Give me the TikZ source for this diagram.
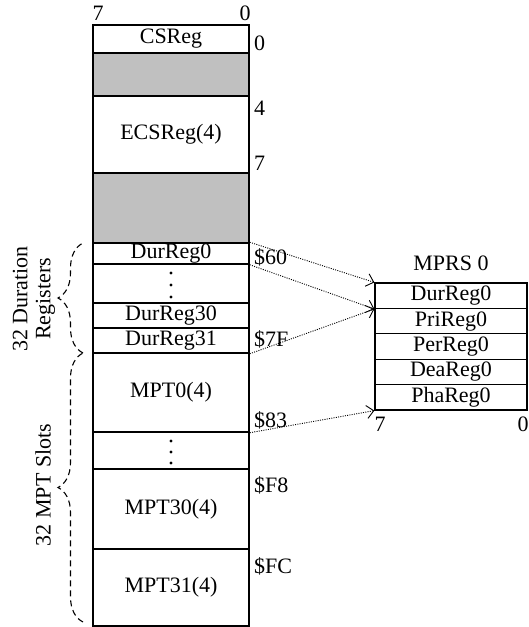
\documentclass[tikz,border=0pt]{standalone}
\usepackage{fontspec}
\setmainfont{Liberation Serif}
\usetikzlibrary{decorations.pathreplacing,arrows.meta}
\definecolor{regGray}{HTML}{C0C0C0}
\begin{document}
\begin{tikzpicture}[x=1bp,y=-1bp,
  txt/.style={font=\fontsize{22bp}{23bp}\selectfont, inner sep=0pt},
  reg/.style={txt, draw, line width=1.5bp, minimum width=156bp, anchor=center},
  grayreg/.style={reg, fill=regGray},
  mreg/.style={txt, draw, line width=1.2bp, minimum width=152bp, minimum height=25.4bp, anchor=center},
  addr/.style={txt, anchor=west},
  ptr/.style={line width=0.9bp, dash pattern=on 1bp off 1.3bp, -{Straight Barb[length=7bp,width=13bp,line width=0.9bp]}},
  dbrace/.style={line width=1.1bp, dash pattern=on 6bp off 4bp, decorate, decoration={brace, amplitude=25bp}},
  dotm/.style={fill=black}
]
\useasboundingbox (0,0) rectangle (529,627);

% main register column
\node[reg, minimum height=28bp] (csreg) at (171,39) {CSReg};
\node[grayreg, minimum height=43bp] (gray1) at (171,74.5) {};
\node[reg, minimum height=77bp] (ecsreg) at (171,134.5) {ECSReg(4)};
\node[grayreg, minimum height=70bp] (gray2) at (171,208) {};
\node[reg, minimum height=21bp] (dur0) at (171,253.5) {DurReg0};
\node[reg, minimum height=39bp] (durdots) at (171,283.5) {};
\node[reg, minimum height=25bp] (dur30) at (171,315.5) {DurReg30};
\node[reg, minimum height=25bp] (dur31) at (171,340.5) {DurReg31};
\node[reg, minimum height=79bp] (mpt0) at (171,392.5) {MPT0(4)};
\node[reg, minimum height=37bp] (mptdots) at (171,450.5) {};
\node[reg, minimum height=80bp] (mpt30) at (171,509) {MPT30(4)};
\node[reg, minimum height=77bp] (mpt31) at (171,587.5) {MPT31(4)};

% vertical dots
\foreach \yy in {273,285,297,441,452,463} \fill[dotm] (171,\yy) circle (1.6bp);

% bit labels
\node[txt] (b7) at (98,13) {7};
\node[txt] (b0) at (245,13) {0};

% offsets
\node[addr] (o0) at (254,43) {0};
\node[addr] (o4) at (254,108) {4};
\node[addr] (o7) at (254,163) {7};
\node[addr] (a60) at (254,257) {\$60};
\node[addr] (a7f) at (254,339) {\$7F};
\node[addr] (a83) at (254,420) {\$83};
\node[addr] (af8) at (254,485) {\$F8};
\node[addr] (afc) at (254,566) {\$FC};

% MPRS box
\node[txt] (mprstitle) at (451,263) {MPRS 0};
\node[mreg] (mdur) at (451,295.7) {DurReg0};
\node[mreg] (mpri) at (451,321.1) {PriReg0};
\node[mreg] (mper) at (451,346.5) {PerReg0};
\node[mreg] (mdea) at (451,371.9) {DeaReg0};
\node[mreg] (mpha) at (451,397.3) {PhaReg0};
\node[txt] (m7) at (380,424) {7};
\node[txt] (m0) at (523,424) {0};

% pointers
\draw[ptr] (dur0.north east) -- (mdur.north west);
\draw[ptr] (dur0.south east) -- (mdur.south west);
\draw[ptr] (dur31.south east) -- (mdur.south west);
\draw[ptr] (mpt0.south east) -- (mpha.south west);

% braces
\coordinate (br1a) at (83,353);
\coordinate (br1b) at (83,243);
\coordinate (br2a) at (83,622);
\coordinate (br2b) at (83,353);
\draw[dbrace] (br1a) -- (br1b);
\draw[dbrace] (br2a) -- (br2b);
\node[txt, rotate=90, align=center] (durlbl) at (34,299) {32 Duration\\Registers};
\node[txt, rotate=90] (mptlbl) at (43,485) {32 MPT Slots};
\end{tikzpicture}
\end{document}
